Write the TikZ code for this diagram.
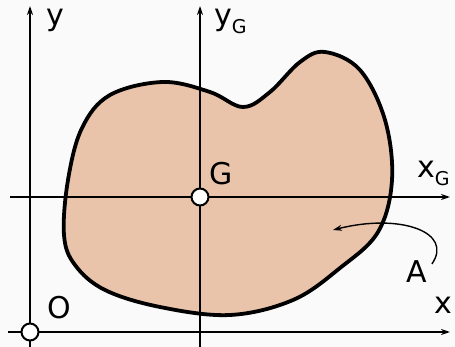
\documentclass[tikz,border=0pt]{standalone}
\usepackage{fontspec}
\setmainfont{DejaVu Sans}
\usetikzlibrary{positioning,arrows.meta}
\definecolor{areafill}{RGB}{233,196,171}
\definecolor{paper}{RGB}{250,250,250}
\newcommand{\lowsub}[1]{\raisebox{-8pt}{\fontsize{19}{19}\selectfont #1}}

\begin{document}
\begin{tikzpicture}[x=1pt,y=-1pt,
    axis/.style={line width=1.6pt,-{Stealth[length=9pt,width=6pt]}},
    pivot/.style={circle,draw,fill=white,line width=2pt,minimum size=17pt,inner sep=0pt},
    lbl/.style={anchor=base west,inner sep=0pt,font=\fontsize{30}{36}\selectfont}]
  \fill[paper] (0,0) rectangle (455,347);
  \useasboundingbox (0,0) rectangle (455,347);

  % the area A
  \draw[line width=3.8pt,fill=areafill] plot[smooth cycle,tension=0.6] coordinates {
    (64,235) (68,180) (82,128) (110,95) (163,82) (210,92) (243,107) (270,92)
    (300,62) (325,52) (360,70) (385,120) (392,180) (378,232) (340,268)
    (293,300) (230,315) (160,307) (105,290) (75,265)};

  % axes
  \coordinate (o) at (30,332);
  \coordinate (g) at (200,197);
  \coordinate (xstart) at (8,332);
  \coordinate (xend) at (450,332);
  \coordinate (ybot) at (30,347);
  \coordinate (ytop) at (30,6);
  \coordinate (xgstart) at (10,197);
  \coordinate (xgend) at (450,197);
  \coordinate (ygbot) at (200,347);
  \coordinate (ygtop) at (200,6);
  \draw[axis] (xstart) -- (xend);
  \draw[axis] (ybot) -- (ytop);
  \draw[axis] (xgstart) -- (xgend);
  \draw[axis] (ygbot) -- (ygtop);

  \node[pivot] (opt) at (o) {};
  \node[pivot] (gpt) at (g) {};

  % labels
  \node[lbl] (ylbl) at (46,26) {y};
  \node[lbl] (yglbl) at (214,26) {y\lowsub{G}};
  \node[lbl] (xglbl) at (417,178) {x\lowsub{G}};
  \node[lbl] (xlbl) at (434,313) {x};
  \node[lbl] (glbl) at (209,185) {G};
  \node[lbl] (olbl) at (47,318) {O};
  \node[lbl] (albl) at (406,283) {A};

  % pointer to the area
  \coordinate (inside) at (333,230);
  \draw[line width=1.4pt,-{Stealth[length=9pt,width=6pt]}]
    (albl.north east) ++(5,3) .. controls (454,232) and (400,213) .. (inside);
\end{tikzpicture}
\end{document}
